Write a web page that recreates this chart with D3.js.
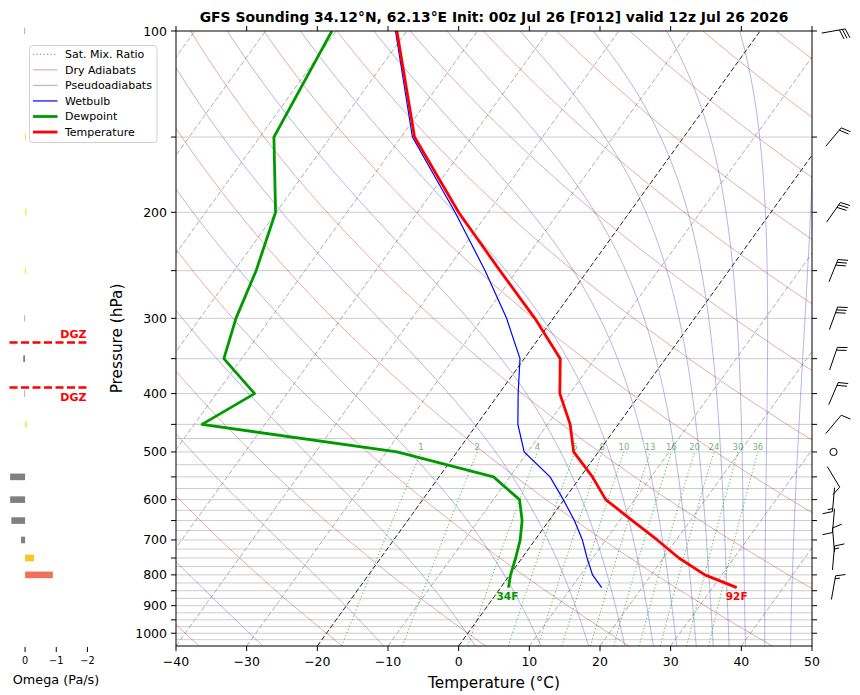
<!DOCTYPE html>
<html><head><meta charset="utf-8">
<script src="https://cdnjs.cloudflare.com/ajax/libs/d3/7.8.5/d3.min.js"></script>
<style>body{margin:0;background:#fff} svg{display:block} text{font-family:"DejaVu Sans",sans-serif}</style>
</head><body><svg id="c" width="860" height="695"></svg>
<script>
// ---------------- data ----------------
const titleText = "GFS Sounding 34.12°N, 62.13°E Init: 00z Jul 26 [F012] valid 12z Jul 26 2026";
const levels      = [840, 800, 750, 700, 650, 600, 550, 500, 450, 400, 350, 300, 250, 200, 150, 100];
const temperature = [33.4, 27.6, 22.2, 17.3, 11.8, 5.9, 1.7, -3.5, -6.8, -11.4, -14.9, -22.6, -32.4, -44.2, -58.1, -71.4];
const dewpoint    = [1.1, 0.1, -0.9, -2.1, -3.8, -6.3, -12.3, -28.5, -58.9, -54.6, -62.5, -64.9, -66.9, -70.1, -78.0, -80.6];
const wetbulb     = [14.3, 11.7, 9.2, 6.7, 3.6, -0.1, -4.3, -10.5, -14.2, -17.3, -20.6, -26.6, -34.5, -44.7, -58.4, -71.6];

const windLevels = [100, 150, 200, 250, 300, 350, 400, 450, 500, 550, 600, 650, 700, 750, 840];
const windDir    = [80, 40, 35, 22, 20, 19, 23, 40, 0, 149, 185, 185, 355, 5, 10];
const windSpeed  = [30, 20, 30, 30, 30, 20, 20, 10, 0, 10, 15, 10, 10, 15, 15];

const omegaLevels = [100, 150, 200, 250, 300, 350, 400, 450, 500, 550, 600, 650, 700, 750, 800];
const omegaValues = [0.02, -0.03, -0.04, -0.03, 0.02, 0.06, 0.02, -0.05, 0.0, 0.48, 0.48, 0.44, 0.13, -0.29, -0.89];

const tempTicks = [-40, -30, -20, -10, 0, 10, 20, 30, 40, 50];
const presMajor = [100, 200, 300, 400, 500, 600, 700, 800, 900, 1000];
const presMinor = [150, 250, 350, 450, 550, 650, 750, 850, 950];
const omegaTicks = [0, -1, -2];
const mixRatios = [1, 2, 4, 6, 8, 10, 13, 16, 20, 24, 30, 36];
const dryThetas = d3.range(233.15, 560, 20);
const moistThetas = d3.range(243.15, 540, 20);
const isotherms = d3.range(-120, 51, 10);
const gridLevels = [150, 200, 250, 300, 350, 400, 450].concat(d3.range(475, 1026, 25));
const dgzTemps = [-18, -12];

// ---------------- setup ----------------
const svg = d3.select("#c");
const L = 176, R = 812, T0 = 31, B = 646;
const x = d3.scaleLinear().domain([-40, 50]).range([L, R]);
const y = d3.scaleLog().domain([1050, 100]).range([B, T0]);
const SKEW = 0.72;
const sx = (t, p) => x(t) + SKEW * (B - y(p));

const DRY_C = "rgba(200,55,55,0.5)", MOIST_C = "rgba(60,60,190,0.45)", MIX_C = "rgba(0,128,0,0.7)";

svg.append("rect").attr("width", 860).attr("height", 695).attr("fill", "#fff");
svg.append("defs").append("clipPath").attr("id", "clip")
  .append("rect").attr("x", L).attr("y", T0).attr("width", R - L).attr("height", B - T0);
const gp = svg.append("g").attr("clip-path", "url(#clip)");

// grid
gp.selectAll(".grid").data(gridLevels).join("line")
  .attr("x1", L).attr("x2", R).attr("y1", d => y(d)).attr("y2", d => y(d))
  .attr("stroke", "#cccccc").attr("stroke-width", 1);

// isotherms
gp.selectAll(".iso").data(isotherms).join("line")
  .attr("x1", d => sx(d, 1050)).attr("y1", y(1050))
  .attr("x2", d => sx(d, 100)).attr("y2", y(100))
  .attr("stroke", d => (d === 0 || d === -20) ? "#222" : "#a5a5a5")
  .attr("stroke-width", d => (d === 0 || d === -20) ? 1 : 0.9)
  .attr("stroke-dasharray", "5,2.3");

const presSteps = d3.range(1050, 99, -5);
const lineKT = d3.line().x(d => sx(d[1] - 273.15, d[0])).y(d => y(d[0]));

// dry adiabats
gp.selectAll(".dry").data(dryThetas).join("path")
  .attr("d", th => lineKT(presSteps.map(p => [p, th * Math.pow(p / 1000, 0.2857)])))
  .attr("fill", "none").attr("stroke", DRY_C).attr("stroke-width", 0.85);

// moist adiabats (pseudoadiabats) integrated downward from 100 hPa
function dTdp(p, T) {
  const es = 6.112 * Math.exp(17.67 * (T - 273.15) / (T - 29.65));
  const rs = 0.622 * es / (p - es);
  return (287.04 * T + 2.501e6 * rs) / (p * (1005.7 + 2.501e6 * 2.501e6 * rs * 0.622 / (287.04 * T * T)));
}
function moist(th) {
  let p = 100, T = th * Math.pow(0.1, 0.2857);
  const pts = [[p, T]];
  const h = 2.5;
  while (p < 1050) {
    const k1 = dTdp(p, T), k2 = dTdp(p + h / 2, T + h / 2 * k1), k3 = dTdp(p + h / 2, T + h / 2 * k2), k4 = dTdp(p + h, T + h * k3);
    T += h / 6 * (k1 + 2 * k2 + 2 * k3 + k4); p += h;
    pts.push([p, T]);
  }
  return pts;
}
gp.selectAll(".moist").data(moistThetas).join("path")
  .attr("d", th => lineKT(moist(th)))
  .attr("fill", "none").attr("stroke", MOIST_C).attr("stroke-width", 0.85);

// mixing ratio lines
function tdOf(w, p) { const e = w * p / (622 + w); const l = Math.log(e / 6.112); return 243.5 * l / (17.67 - l); }
const mixP = d3.range(1050, 499, -10);
const lineC = d3.line().x(d => sx(d[1], d[0])).y(d => y(d[0]));
gp.selectAll(".mix").data(mixRatios).join("path")
  .attr("d", w => lineC(mixP.map(p => [p, tdOf(w, p)])))
  .attr("fill", "none").attr("stroke", MIX_C).attr("stroke-width", 0.9).attr("stroke-dasharray", "1.2,2.3");
svg.selectAll(".mixlab").data(mixRatios).join("text")
  .attr("x", w => sx(tdOf(w, 500), 500)).attr("y", y(500) - 1.5)
  .attr("text-anchor", "middle").attr("font-size", "8.5px").attr("fill", "rgba(0,128,0,0.6)").text(w => w);

// profiles
const prof = d3.line().x(d => sx(d[1], d[0])).y(d => y(d[0]));
const zip = arr => levels.map((p, i) => [p, arr[i]]);
gp.append("path").attr("d", prof(zip(wetbulb))).attr("fill", "none").attr("stroke", "#0000ff").attr("stroke-width", 1.2);
gp.append("path").attr("d", prof(zip(dewpoint))).attr("fill", "none").attr("stroke", "#009a00").attr("stroke-width", 2.8).attr("stroke-linejoin", "round");
gp.append("path").attr("d", prof(zip(temperature))).attr("fill", "none").attr("stroke", "#ff0000").attr("stroke-width", 2.8).attr("stroke-linejoin", "round");

const toF = c => Math.round(c * 9 / 5 + 32) + "F";
svg.append("text").attr("x", sx(dewpoint[0], levels[0]) - 1).attr("y", y(levels[0]) + 12)
  .attr("text-anchor", "middle").attr("font-size", "10.5px").attr("font-weight", "bold").attr("fill", "#009a00").text(toF(dewpoint[0]));
svg.append("text").attr("x", sx(temperature[0], levels[0])).attr("y", y(levels[0]) + 12)
  .attr("text-anchor", "middle").attr("font-size", "10.5px").attr("font-weight", "bold").attr("fill", "#ff0000").text(toF(temperature[0]));

// spines
svg.append("rect").attr("x", L).attr("y", T0).attr("width", R - L).attr("height", B - T0)
  .attr("fill", "none").attr("stroke", "#000").attr("stroke-width", 1);

// x ticks
tempTicks.forEach(t => {
  svg.append("line").attr("x1", x(t)).attr("x2", x(t)).attr("y1", B).attr("y2", B + 5).attr("stroke", "#000");
  svg.append("line").attr("x1", x(t)).attr("x2", x(t)).attr("y1", T0).attr("y2", T0 - 5).attr("stroke", "#000");
  svg.append("text").attr("x", x(t)).attr("y", B + 20).attr("text-anchor", "middle").attr("font-size", "12.5px")
    .text(t < 0 ? "\u2212" + Math.abs(t) : t);
});
// y ticks
presMajor.concat(presMinor).forEach(p => {
  svg.append("line").attr("x1", L - 5).attr("x2", L).attr("y1", y(p)).attr("y2", y(p)).attr("stroke", "#000");
  svg.append("line").attr("x1", R).attr("x2", R + 5).attr("y1", y(p)).attr("y2", y(p)).attr("stroke", "#000");
});
presMajor.forEach(p => {
  svg.append("text").attr("x", L - 9).attr("y", y(p) + 4.5).attr("text-anchor", "end").attr("font-size", "12.5px").text(p);
});

svg.append("text").attr("x", (L + R) / 2).attr("y", 688).attr("text-anchor", "middle").attr("font-size", "15.3px").text("Temperature (°C)");
svg.append("text").attr("transform", `translate(121.5,${(T0 + B) / 2}) rotate(-90)`).attr("text-anchor", "middle").attr("font-size", "15.3px").text("Pressure (hPa)");
svg.append("text").attr("x", (L + R) / 2).attr("y", 22).attr("text-anchor", "middle").attr("font-size", "13.9px").attr("font-weight", "bold").text(titleText);

// legend
const leg = svg.append("g");
leg.append("rect").attr("x", 29.5).attr("y", 45.5).attr("width", 127.5).attr("height", 97).attr("rx", 3)
  .attr("fill", "rgba(255,255,255,0.85)").attr("stroke", "#d0d0d0");
const legItems = [
  ["Sat. Mix. Ratio", MIX_C, 1, "1.2,2.3"],
  ["Dry Adiabats", DRY_C, 1, null],
  ["Pseudoadiabats", MOIST_C, 1, null],
  ["Wetbulb", "#0000ff", 1.2, null],
  ["Dewpoint", "#009a00", 2.8, null],
  ["Temperature", "#ff0000", 2.8, null]
];
legItems.forEach((it, i) => {
  const yy = 54.3 + i * 15.55;
  const ln = leg.append("line").attr("x1", 33).attr("x2", 57.5).attr("y1", yy).attr("y2", yy).attr("stroke", it[1]).attr("stroke-width", it[2]);
  if (it[3]) ln.attr("stroke-dasharray", it[3]);
  leg.append("text").attr("x", 65).attr("y", yy + 3.9).attr("font-size", "11px").text(it[0]);
});

// wind barbs
function barb(cx, cy, dir, spd) {
  const Lb = 24;
  spd = Math.round(spd / 5) * 5;
  if (spd < 5) {
    svg.append("circle").attr("cx", cx).attr("cy", cy).attr("r", 0.15 * Lb).attr("fill", "none").attr("stroke", "#000").attr("stroke-width", 1);
    return;
  }
  const r = dir * Math.PI / 180;
  const ux = Math.sin(r), uy = -Math.cos(r);
  const sxv = -uy, syv = ux;
  const bx = cx - ux * Lb / 2, by = cy - uy * Lb / 2;
  const P = a => [bx + ux * a, by + uy * a];
  let d = `M${bx},${by}L${P(Lb)}`;
  const sp = 0.125 * Lb, h = 0.4 * Lb, wd = 0.25 * Lb;
  let full = Math.floor(spd / 10), half = (spd % 10) >= 5;
  let off = Lb;
  for (let i = 0; i < full; i++) {
    const a = P(off), b = P(off + wd / 2);
    d += `M${a}L${b[0] + sxv * h},${b[1] + syv * h}`;
    off -= sp;
  }
  if (half) {
    if (off === Lb) off -= 1.5 * sp;
    const a = P(off), b = P(off + wd / 4);
    d += `M${a}L${b[0] + sxv * h / 2},${b[1] + syv * h / 2}`;
  }
  svg.append("path").attr("d", d).attr("fill", "none").attr("stroke", "#000").attr("stroke-width", 1);
}
windLevels.forEach((p, i) => barb(833.5, y(p), windDir[i], windSpeed[i]));

// omega panel
const xo = d3.scaleLinear().domain([0.5, -2.5]).range([9.5, 103]);
const omegaColor = v => v >= 0 ? "#808080" : v > -0.15 ? "#f3ea24" : v > -0.6 ? "#f9c52c" : "#ec735a";
svg.selectAll(".om").data(omegaLevels).join("rect")
  .attr("x", (p, i) => Math.min(xo(0), xo(omegaValues[i])))
  .attr("width", (p, i) => Math.abs(xo(omegaValues[i]) - xo(0)))
  .attr("y", p => y(p) - 3.3).attr("height", 6.6)
  .attr("fill", (p, i) => omegaColor(omegaValues[i]));
omegaTicks.forEach(t => {
  svg.append("line").attr("x1", xo(t)).attr("x2", xo(t)).attr("y1", B + 1).attr("y2", B + 6).attr("stroke", "#000");
  svg.append("text").attr("x", xo(t)).attr("y", B + 18).attr("text-anchor", "middle").attr("font-size", "9.7px")
    .text(t < 0 ? "\u2212" + Math.abs(t) : t);
});
svg.append("text").attr("x", 56).attr("y", 684).attr("text-anchor", "middle").attr("font-size", "12.8px").text("Omega (Pa/s)");

// DGZ
function pAtT(target) {
  for (let i = 0; i < levels.length - 1; i++) {
    const t1 = temperature[i], t2 = temperature[i + 1];
    if ((t1 - target) * (t2 - target) <= 0) {
      const f = (target - t1) / (t2 - t1);
      return Math.exp(Math.log(levels[i]) + f * (Math.log(levels[i + 1]) - Math.log(levels[i])));
    }
  }
  return null;
}
dgzTemps.forEach((t, i) => {
  const yy = y(pAtT(t));
  svg.append("line").attr("x1", xo(0.5)).attr("x2", xo(-2)).attr("y1", yy).attr("y2", yy)
    .attr("stroke", "#ff0000").attr("stroke-width", 2.5).attr("stroke-dasharray", "8,3.5");
  svg.append("text").attr("x", 86.5).attr("y", i === 0 ? yy - 4 : yy + 13).attr("text-anchor", "end")
    .attr("font-size", "11px").attr("font-weight", "bold").attr("fill", "#ff0000").text("DGZ");
});
</script></body></html>
